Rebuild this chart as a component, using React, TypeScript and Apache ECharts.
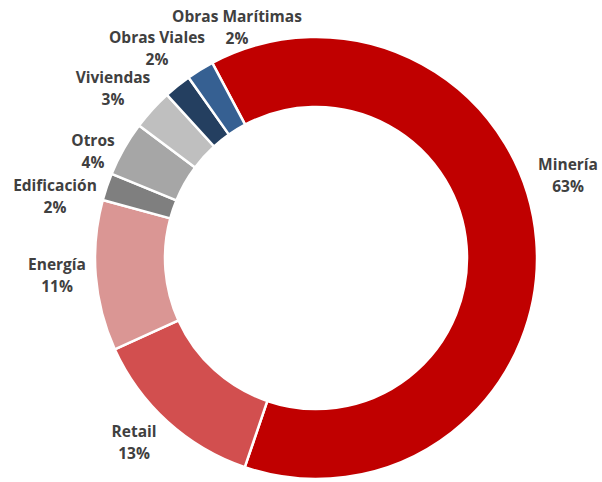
import React, { useEffect, useRef } from "react";
import * as echarts from "echarts";

const categories = ["Minería", "Retail", "Energía", "Edificación", "Otros", "Viviendas", "Obras Viales", "Obras Marítimas"];
const shares = [63, 13, 11, 2, 4, 3, 2, 2];
const colors = ["#C00000", "#D24F4F", "#DA9694", "#7F7F7F", "#A6A6A6", "#BFBFBF", "#243F60", "#366092"];
const labelPositions: [number, number][] = [
  [568, 175],
  [134, 442],
  [57, 275],
  [55, 196],
  [93, 151],
  [113, 88],
  [157, 48],
  [237, 27],
];

export default function App() {
  const ref = useRef<HTMLDivElement>(null);
  useEffect(() => {
    document.body.style.margin = "0";
    if (!ref.current) return;
    const chart = echarts.init(ref.current, null, { renderer: "svg" });
    chart.setOption({
      animation: false,
      backgroundColor: "#ffffff",
      series: [
        {
          type: "pie",
          center: [316, 258],
          radius: [151, 221],
          startAngle: 118,
          clockwise: true,
          avoidLabelOverlap: false,
          itemStyle: { borderColor: "#ffffff", borderWidth: 2.5 },
          label: {
            show: true,
            position: "outside",
            formatter: (p: any) => `${p.name}\n${shares[p.dataIndex]}%`,
            fontFamily: "'Open Sans', 'Noto Sans', sans-serif",
            fontSize: 15.5,
            fontWeight: "bold",
            color: "#404040",
            lineHeight: 22,
            align: "center",
          },
          labelLine: { show: false },
          labelLayout: (params: any) => ({
            x: labelPositions[params.dataIndex][0],
            y: labelPositions[params.dataIndex][1],
            align: "center",
            verticalAlign: "middle",
          }),
          emphasis: { disabled: true },
          data: categories.map((name, i) => ({
            name,
            value: shares[i],
            itemStyle: { color: colors[i] },
          })),
        },
      ],
    });
    return () => chart.dispose();
  }, []);
  return <div ref={ref} style={{ width: 602, height: 482 }} />;
}
